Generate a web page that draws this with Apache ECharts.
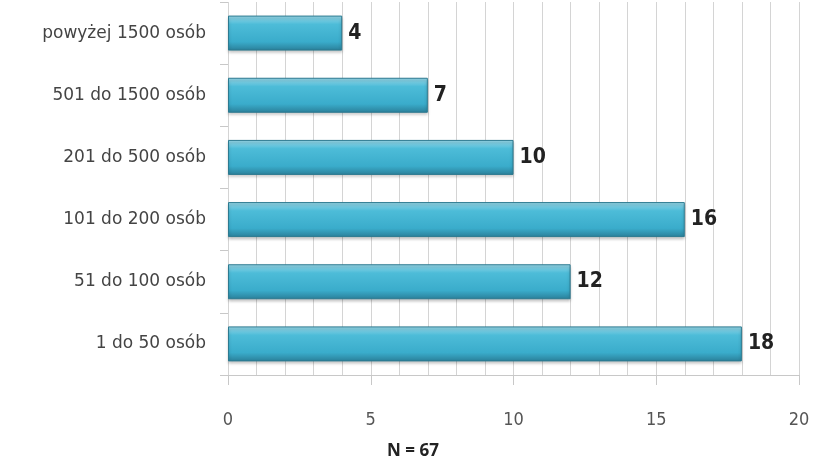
<!DOCTYPE html>
<html>
<head>
<meta charset="utf-8">
<script src="https://cdn.jsdelivr.net/npm/echarts@6/dist/echarts.min.js"></script>
<style>
html, body { margin: 0; padding: 0; background: #fff; }
#main { width: 816px; height: 463px; }
</style>
</head>
<body>
<div id="main"></div>
<script>
// kategorie od dołu do góry
var categories = ['1 do 50 osób', '51 do 100 osób', '101 do 200 osób', '201 do 500 osób', '501 do 1500 osób', 'powyżej 1500 osób'];
var values = [18, 12, 16, 10, 7, 4];
var xTicks = [0, 5, 10, 15, 20];
var note = 'N = 67';

var myChart = echarts.init(document.getElementById('main'));

var barColor = new echarts.graphic.LinearGradient(0, 0, 0, 1, [
    {offset: 0, color: '#9ad9ea'},
    {offset: 0.25, color: '#4dbcd8'},
    {offset: 0.75, color: '#3aaccb'},
    {offset: 1, color: '#2a7f99'}
]);

var option = {
    animation: false,
    grid: {left: 228, right: 17, top: 2, bottom: 88},
    title: {
        text: note,
        left: 408, top: 438,
        textAlign: 'center',
        textStyle: {fontFamily: 'Open Sans', fontSize: 17, fontWeight: 'bold', color: '#222'}
    },
    xAxis: {
        type: 'value',
        min: xTicks[0], max: xTicks[xTicks.length - 1], interval: 5,
        axisLine: {show: true, lineStyle: {color: '#c8c8c8'}},
        axisTick: {show: true, length: 10, lineStyle: {color: '#c8c8c8'}},
        axisLabel: {
            margin: 36,
            fontFamily: 'DejaVu Sans Condensed', fontSize: 18, color: '#555',
            formatter: function (v) { return xTicks.indexOf(v) >= 0 ? String(v) : ''; }
        },
        splitLine: {show: true, lineStyle: {color: '#d4d4d4'}},
        minorTick: {show: false, splitNumber: 5},
        minorSplitLine: {show: true, lineStyle: {color: '#d4d4d4'}}
    },
    yAxis: {
        type: 'category',
        data: categories,
        axisLine: {show: false},
        axisTick: {show: true, length: 8, lineStyle: {color: '#c8c8c8'}},
        axisLabel: {margin: 22, fontFamily: 'DejaVu Sans', fontSize: 17, color: '#444'}
    },
    series: [{
        type: 'bar',
        data: values,
        barWidth: 35,
        itemStyle: {
            color: barColor,
            borderColor: '#2c7a90',
            borderWidth: 1,
            shadowColor: 'rgba(0,0,0,0.25)',
            shadowBlur: 3,
            shadowOffsetY: 2
        },
        label: {
            show: true,
            position: 'right',
            distance: 6,
            fontFamily: 'DejaVu Sans Condensed',
            fontWeight: 'bold',
            fontSize: 21,
            color: '#222'
        }
    }]
};
myChart.setOption(option);
</script>
</body>
</html>
